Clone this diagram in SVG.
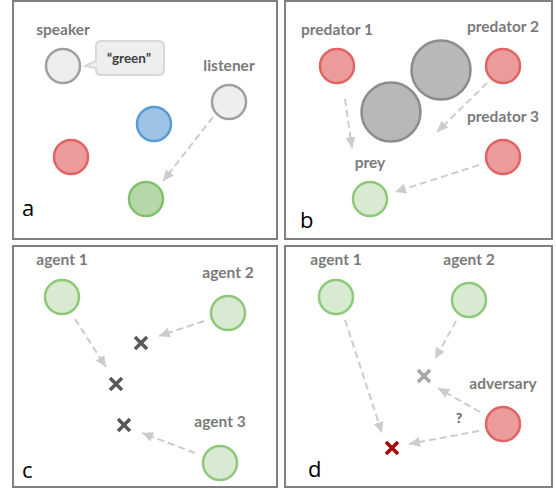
<svg xmlns="http://www.w3.org/2000/svg" width="556" height="489" viewBox="0 0 556 489">
<style>
.panel{fill:#fff;stroke:#7f7f7f;stroke-width:2}
.lbl{font-family:Lato,"Liberation Sans",sans-serif;font-weight:bold;font-size:15.5px;fill:#7a7a7a;text-anchor:middle}
.pl{font-family:"Open Sans","Liberation Sans",sans-serif;font-size:22px;fill:#000}
.grey{fill:#eeeeee;stroke:#a0a0a0;stroke-width:2.5}
.red{fill:#eb9b9b;stroke:#e06464;stroke-width:2.5}
.blue{fill:#9dc3e6;stroke:#5b9bd5;stroke-width:2.5}
.green{fill:#b6d7a8;stroke:#82c06c;stroke-width:2.5}
.lgreen{fill:#d9ead3;stroke:#8ec87a;stroke-width:2.5}
.big{fill:#b8b8b8;stroke:#8c8c8c;stroke-width:2.5}
.arr{fill:none;stroke:#cccccc;stroke-width:2;stroke-dasharray:7 4;marker-end:url(#ah)}
.x{stroke:#595959;stroke-width:3.5;fill:none}
</style>
<defs>
<marker id="ah" markerUnits="userSpaceOnUse" markerWidth="12" markerHeight="12" viewBox="0 0 12 12" refX="11" refY="6" orient="auto">
<path d="M0,1 L11,6 L0,11 Z" fill="#cccccc"/>
</marker>
</defs>

<g id="panel-a">
<rect class="panel" x="13" y="1" width="264" height="238"/>
<text class="pl" x="22" y="216">a</text>
</g>
<g id="panel-b">
<rect class="panel" x="285" y="1" width="267" height="238"/>
<text class="pl" x="300" y="228">b</text>
</g>
<g id="panel-c">
<rect class="panel" x="13" y="246" width="264" height="241"/>
<text class="pl" x="22" y="478">c</text>
</g>
<g id="panel-d">
<rect class="panel" x="285" y="246" width="267" height="241"/>
<text class="pl" x="308" y="477">d</text>
</g>

<g id="connectors">
<line class="arr" x1="213" y1="117" x2="163" y2="181"/>
<line class="arr" x1="345" y1="99" x2="352" y2="148"/>
<line class="arr" x1="487" y1="83" x2="437" y2="132"/>
<line class="arr" x1="479" y1="165" x2="395" y2="192"/>
<line class="arr" x1="75" y1="319" x2="106" y2="367"/>
<line class="arr" x1="204" y1="321" x2="159" y2="336"/>
<line class="arr" x1="195" y1="453" x2="142" y2="433"/>
<line class="arr" x1="345" y1="320" x2="382" y2="433"/>
<line class="arr" x1="456" y1="321" x2="435" y2="359"/>
<line class="arr" x1="480" y1="412" x2="438" y2="388"/>
<line class="arr" x1="479" y1="431" x2="409" y2="444"/>
</g>

<g id="speaker">
<text class="lbl" x="63" y="35">speaker</text>
<circle class="grey" cx="63" cy="66" r="17"/>
</g>
<g id="bubble">
<path d="M101,41 H159 Q164,41 164,46 V70 Q164,75 159,75 H101 Q96,75 96,70 V68 L85,66 L96,61 V46 Q96,41 101,41 Z" fill="#eeeeee" stroke="#d9d9d9" stroke-width="2"/>
<text x="129" y="63" font-family="Lato,'Liberation Sans',sans-serif" font-weight="bold" font-size="13.5" fill="#404040" text-anchor="middle">“green”</text>
</g>
<g id="listener">
<text class="lbl" x="229" y="71">listener</text>
<circle class="grey" cx="229" cy="102" r="17"/>
</g>
<g id="blue-landmark"><circle class="blue" cx="154" cy="124" r="17"/></g>
<g id="red-landmark"><circle class="red" cx="71" cy="157" r="17"/></g>
<g id="green-landmark"><circle class="green" cx="146" cy="199" r="17"/></g>

<g id="predator1">
<text class="lbl" x="337" y="35">predator 1</text>
<circle class="red" cx="337" cy="66" r="17"/>
</g>
<g id="predator2">
<text class="lbl" x="503" y="32">predator 2</text>
<circle class="red" cx="503" cy="66" r="17"/>
</g>
<g id="obstacle1"><circle class="big" cx="441" cy="70" r="29.5"/></g>
<g id="obstacle2"><circle class="big" cx="391" cy="112" r="29.5"/></g>
<g id="predator3">
<text class="lbl" x="503" y="122">predator 3</text>
<circle class="red" cx="503" cy="157" r="17"/>
</g>
<g id="prey">
<text class="lbl" x="370" y="168">prey</text>
<circle class="lgreen" cx="370" cy="199" r="17"/>
</g>

<g id="c-agent1">
<text class="lbl" x="62" y="265">agent 1</text>
<circle class="lgreen" cx="62" cy="297" r="17"/>
</g>
<g id="c-agent2">
<text class="lbl" x="228" y="278">agent 2</text>
<circle class="lgreen" cx="228" cy="313" r="17"/>
</g>
<g id="c-agent3">
<text class="lbl" x="220" y="427">agent 3</text>
<circle class="lgreen" cx="220" cy="463" r="17"/>
</g>
<g id="c-x1"><path class="x" d="M135,337 L147,349 M147,337 L135,349"/></g>
<g id="c-x2"><path class="x" d="M110,378 L122,390 M122,378 L110,390"/></g>
<g id="c-x3"><path class="x" d="M118,419 L130,431 M130,419 L118,431"/></g>

<g id="d-agent1">
<text class="lbl" x="336" y="265">agent 1</text>
<circle class="lgreen" cx="336" cy="297" r="17"/>
</g>
<g id="d-agent2">
<text class="lbl" x="469" y="265">agent 2</text>
<circle class="lgreen" cx="469" cy="300" r="17"/>
</g>
<g id="adversary">
<text class="lbl" x="503" y="389">adversary</text>
<circle class="red" cx="503" cy="424" r="17"/>
</g>
<g id="d-xgrey"><path class="x" style="stroke:#a6a6a6" d="M418,370 L430,382 M430,370 L418,382"/></g>
<g id="d-xred"><path class="x" style="stroke:#a50000" d="M386,442 L398,454 M398,442 L386,454"/></g>
<text x="459" y="423" font-family="Lato,'Liberation Sans',sans-serif" font-weight="bold" font-size="14" fill="#5a6470" text-anchor="middle">?</text>
</svg>
